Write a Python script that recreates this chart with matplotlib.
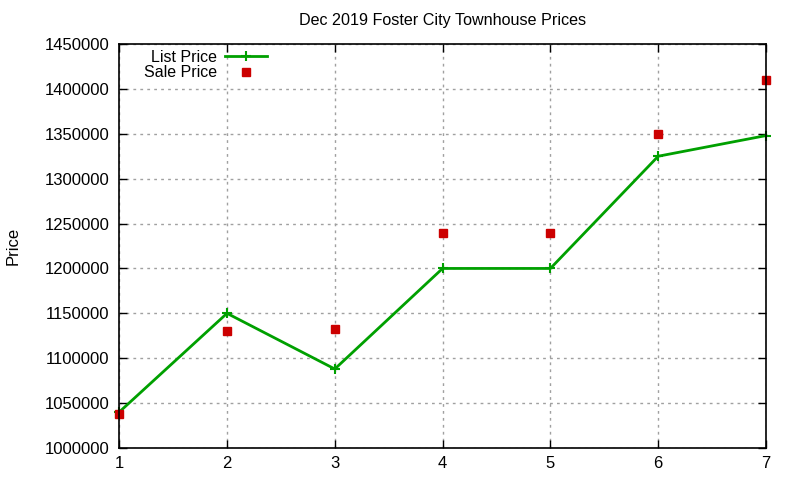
import numpy as np
import matplotlib.pyplot as plt

plt.rcParams['font.family'] = ['Liberation Sans', 'DejaVu Sans']

months = [1, 2, 3, 4, 5, 6, 7]
list_price = [1040000, 1150000, 1088000, 1200000, 1200000, 1325000, 1348000]
sale_price = [1038000, 1130000, 1132000, 1240000, 1240000, 1350000, 1410000]
yticks = np.arange(1000000, 1450001, 50000)

fig = plt.figure(figsize=(8, 4.8), dpi=100)
ax = fig.add_axes([0.149, 0.0667, 0.8085, 0.8416])

ax.plot(months, list_price, "-+", color="#00a000", lw=2, ms=7, mew=1.5,
        label="List Price", clip_on=False)
ax.plot(months, sale_price, "s", color="#cc0000", ms=5.5, ls="none",
        label="Sale Price", clip_on=False)

ax.set_xlim(1, 7)
ax.set_ylim(1000000, 1450000)
ax.set_xticks(months)
ax.set_yticks(yticks)
ax.set_yticklabels([str(v) for v in yticks])
ax.tick_params(direction="in", length=6, labelsize=12, top=True, right=True,
               width=1)
ax.tick_params(axis="x", pad=6)
ax.tick_params(axis="y", pad=7)
ax.grid(True, ls=(0, (2, 3)), color="#a0a0a0", lw=1)
for s in ax.spines.values():
    s.set_linewidth(1.2)

ax.set_title("Dec 2019 Foster City Townhouse Prices", fontsize=11.6, pad=14)
ax.set_ylabel("Price", fontsize=12, labelpad=17)

ax.legend(loc="upper left", markerfirst=False, frameon=False, fontsize=11.5,
          handlelength=2.6, handletextpad=0.5, borderaxespad=0.2,
          labelspacing=0.05, bbox_to_anchor=(0.024, 1.01))

fig.savefig("out.png", dpi=100)
